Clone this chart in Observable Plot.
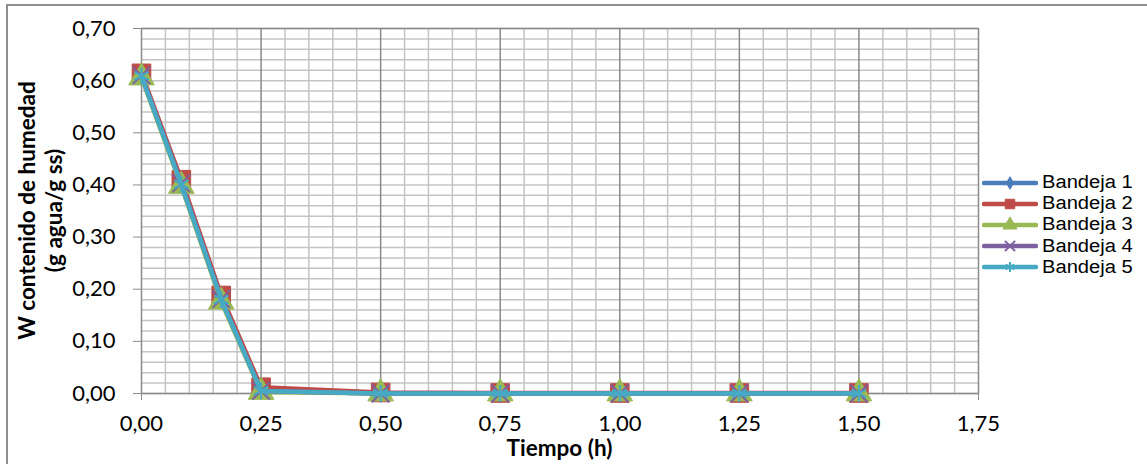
<!DOCTYPE html>
<html>
<head>
<meta charset="utf-8">
<script src="https://cdn.jsdelivr.net/npm/d3@7"></script>
<script src="https://cdn.jsdelivr.net/npm/@observablehq/plot@0.6"></script>
<style>
  html, body { margin: 0; padding: 0; background: #fff; }
  #wrap { position: relative; width: 1147px; height: 464px; overflow: hidden; background: #fff; }
  #frame { position: absolute; left: 6px; top: 4px; width: 1160px; height: 480px;
           border-left: 2px solid #8e8e8e; border-top: 2px solid #8e8e8e; box-sizing: border-box; }
  #chart { position: absolute; left: 0; top: 0; }
  #legend { position: absolute; left: 982px; top: 172px; font-family: "Liberation Sans", Arial, sans-serif;
            font-size: 18px; color: #000; }
  .item { display: flex; align-items: center; height: 21.2px; white-space: nowrap; }
  .item svg { display: block; margin-right: 4px; }
  .item span { display: inline-block; transform: scaleX(1.12); transform-origin: left center; }
</style>
</head>
<body>
<div id="wrap">
  <div id="frame"></div>
  <div id="chart"></div>
  <div id="legend"></div>
</div>
<script>
// ---- Data ----
const tiempo = [0, 0.0833, 0.1667, 0.25, 0.5, 0.75, 1.0, 1.25, 1.5];
const bandeja1 = [0.610, 0.400, 0.180, 0.005, 0.000, 0.000, 0.000, 0.000, 0.000];
const bandeja2 = [0.614, 0.410, 0.188, 0.012, 0.002, 0.001, 0.001, 0.001, 0.001];
const bandeja3 = [0.606, 0.398, 0.176, 0.003, 0.000, 0.000, 0.000, 0.000, 0.000];
const bandeja4 = [0.610, 0.403, 0.181, 0.005, 0.000, 0.000, 0.000, 0.000, 0.000];
const bandeja5 = [0.609, 0.401, 0.180, 0.005, 0.000, 0.000, 0.000, 0.000, 0.000];
const seriesNames = ["Bandeja 1", "Bandeja 2", "Bandeja 3", "Bandeja 4", "Bandeja 5"];
const xTicks = [0, 0.25, 0.5, 0.75, 1.0, 1.25, 1.5, 1.75];
const yTicks = [0, 0.1, 0.2, 0.3, 0.4, 0.5, 0.6, 0.7];

const colors = ["#4a7ebb", "#be4b48", "#98b954", "#7d60a0", "#46aac5"];
const symbols = ["diamond", "square", "triangle", "times", "asterisk"];
const markerR = [5.5, 10.5, 9.5, 8, 8];
const legendSize = [45, 90, 85, 70, 70];
const allSeries = [bandeja1, bandeja2, bandeja3, bandeja4, bandeja5];

const fmt = d => d3.format(".2f")(d).replace(".", ",");

const xMinor = d3.range(0, 1.7501, 0.05).filter(v => Math.abs(v / 0.25 - Math.round(v / 0.25)) > 1e-6);
const yMinor = d3.range(0, 0.7001, 0.02);

const marks = [
  Plot.ruleY(yMinor, {stroke: "#c4c4c4", strokeWidth: 1.5}),
  Plot.ruleX(xMinor, {stroke: "#c4c4c4", strokeWidth: 1.5}),
  Plot.ruleX(xTicks.filter(v => v > 0), {stroke: "#8a8a8a", strokeWidth: 1.5}),
  Plot.ruleY([0.7], {stroke: "#8a8a8a", strokeWidth: 1.5}),
  Plot.ruleX([0], {stroke: "#8a8a8a", strokeWidth: 1.5}),
  Plot.ruleY([0], {stroke: "#8a8a8a", strokeWidth: 1.5}),
  Plot.axisY(yTicks, {tickFormat: fmt, tickSize: 8, tickPadding: 18, stroke: "#8a8a8a",
    fontSize: 22, label: null}),
  Plot.axisX(xTicks, {tickFormat: fmt, tickSize: 7, tickPadding: 15, stroke: "#8a8a8a",
    fontSize: 22, label: null})
];

allSeries.forEach((vals, i) => {
  const data = tiempo.map((t, j) => ({t, w: vals[j]}));
  marks.push(Plot.line(data, {x: "t", y: "w", stroke: colors[i], strokeWidth: 4.5, strokeLinejoin: "round"}));
  const filled = symbols[i] === "diamond" || symbols[i] === "square" || symbols[i] === "triangle";
  marks.push(Plot.dot(data, {x: "t", y: "w", symbol: () => symbols[i], r: markerR[i],
    fill: filled ? colors[i] : "none", stroke: colors[i], strokeWidth: filled ? 1 : 2}));
});

const chart = Plot.plot({
  width: 1147,
  height: 464,
  marginLeft: 141,
  marginRight: 169,
  marginTop: 28,
  marginBottom: 71,
  x: {domain: [0, 1.75]},
  y: {domain: [0, 0.7]},
  style: {fontFamily: "Lato, sans-serif", color: "#000", background: "transparent", overflow: "visible"},
  marks
});

// Axis titles as real text
const svg = d3.select(chart);
svg.append("text")
  .attr("x", (141 + 978) / 2).attr("y", 456)
  .attr("text-anchor", "middle")
  .attr("font-family", "Lato, sans-serif").attr("font-weight", "bold").attr("font-size", 22.5)
  .attr("fill", "#000")
  .text("Tiempo (h)");
const yt = svg.append("text")
  .attr("transform", `translate(0,${(28 + 393) / 2}) rotate(-90)`)
  .attr("text-anchor", "middle")
  .attr("font-family", "Lato, sans-serif").attr("font-weight", "bold").attr("font-size", 22.5)
  .attr("fill", "#000");
yt.append("tspan").attr("x", 0).attr("y", 35).text("W contenido de humedad");
yt.append("tspan").attr("x", 0).attr("y", 62).text("(g agua/g ss)");

document.getElementById("chart").appendChild(chart);

// Legend
const legend = d3.select("#legend");
const symMap = {diamond: d3.symbolDiamond, square: d3.symbolSquare, triangle: d3.symbolTriangle,
                times: d3.symbolTimes, asterisk: d3.symbolAsterisk};
seriesNames.forEach((name, i) => {
  const row = legend.append("div").attr("class", "item");
  const s = row.append("svg").attr("width", 56).attr("height", 20);
  s.append("line").attr("x1", 2).attr("x2", 54).attr("y1", 10).attr("y2", 10)
    .attr("stroke", colors[i]).attr("stroke-width", 4.5).attr("stroke-linecap", "round");
  const filled = symbols[i] === "diamond" || symbols[i] === "square" || symbols[i] === "triangle";
  s.append("path").attr("transform", "translate(28,10)")
    .attr("d", d3.symbol(symMap[symbols[i]], legendSize[i])())
    .attr("fill", filled ? colors[i] : "none").attr("stroke", colors[i]).attr("stroke-width", filled ? 1 : 2);
  row.append("span").text(name);
});
</script>
</body>
</html>
